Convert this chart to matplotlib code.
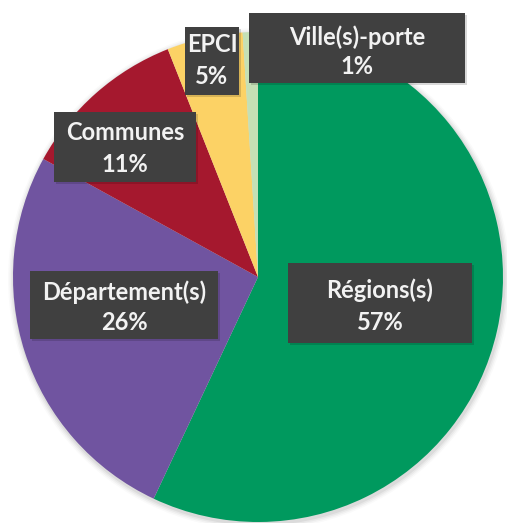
import matplotlib
matplotlib.use("Agg")
import matplotlib.pyplot as plt
from matplotlib.patches import Rectangle, Circle

categories = ["Régions(s)", "Département(s)", "Communes", "EPCI", "Ville(s)-porte"]
values = [57, 26, 11, 5, 1]
colors = ["#00995E", "#7054A0", "#A5182E", "#FCD265", "#C4E0B5"]

W, H = 507, 523
fig = plt.figure(figsize=(W / 100, H / 100), dpi=100)
ax = fig.add_axes([0, 0, 1, 1])

cx, cy, r = 258, H - 277, 245

# soft shadow
for i, a in enumerate([0.05, 0.04, 0.03, 0.02]):
    ax.add_patch(Circle((cx + 1, cy - 2), r + 1.5 + i * 1.5, color="#000000", alpha=a, lw=0, zorder=0))

ax.pie(values, colors=colors, startangle=90, counterclock=False,
       center=(cx, cy), radius=r, frame=True,
       wedgeprops=dict(linewidth=0, zorder=1))
ax.set_xlim(0, W)
ax.set_ylim(0, H)
ax.set_aspect("equal")
ax.axis("off")

# label boxes: (x0, y0_top, x1, y1_bottom) in pixel coords from the top
boxes = [
    (288, 263, 472, 343),
    (30, 271, 218, 339),
    (54, 112, 196, 182),
    (185, 27, 239, 95),
    (249, 13, 465, 83),
]
text_y = [(290, 322), (292, 322), (133, 165), (45, 76), (37, 67)]

for cat, val, (x0, y0, x1, y1), (t1, t2) in zip(categories, values, boxes, text_y):
    ax.add_patch(Rectangle((x0 + 2, H - y1 - 2), x1 - x0, y1 - y0, color="#000000", alpha=0.15, lw=0, zorder=3))
    ax.add_patch(Rectangle((x0, H - y1), x1 - x0, y1 - y0, color="#404040", lw=0, zorder=4))
    xc = (x0 + x1) / 2
    ax.text(xc, H - t1, cat, ha="center", va="center", color="#F2F2F2",
            fontsize=17, fontweight="bold", family=["Lato", "DejaVu Sans"], zorder=5)
    ax.text(xc, H - t2, f"{val}%", ha="center", va="center", color="#F2F2F2",
            fontsize=17, fontweight="bold", family=["Lato", "DejaVu Sans"], zorder=5)

fig.savefig("out.png", dpi=100)
